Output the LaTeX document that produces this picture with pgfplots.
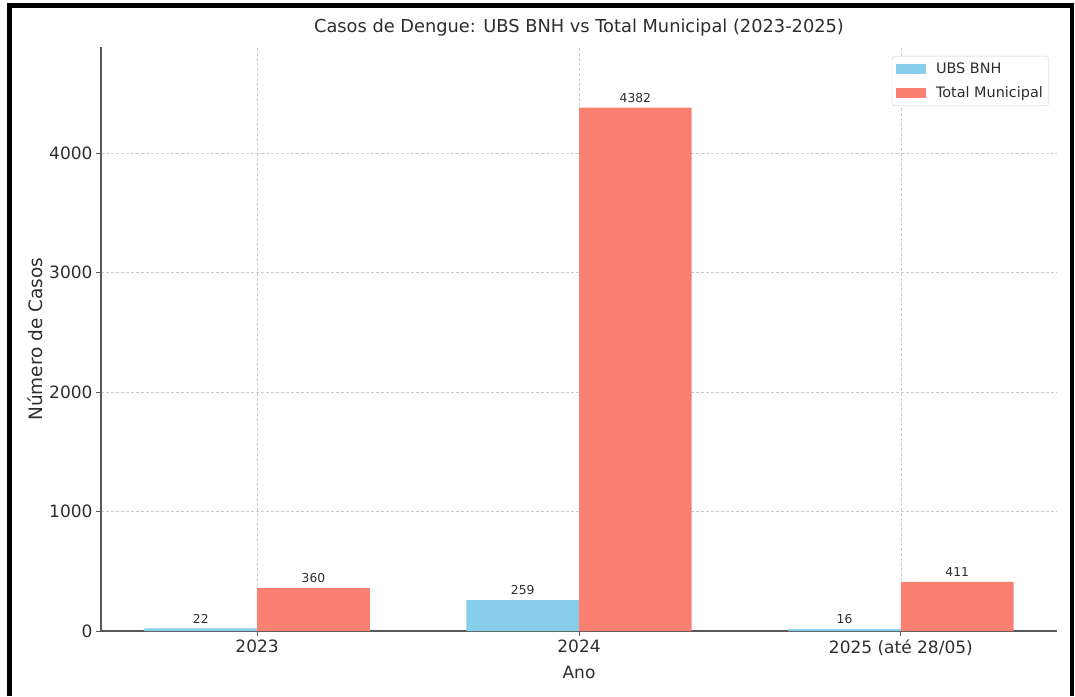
\documentclass[border=0pt]{standalone}
\usepackage{pgfplots}
\pgfplotsset{compat=1.18}
\usepackage{fontspec}
\setmainfont{DejaVu Sans}
\definecolor{skyb}{RGB}{135,206,235}
\definecolor{salm}{RGB}{250,128,114}
\definecolor{txt}{RGB}{45,45,45}
\pgfplotsset{mybarlegend/.style={legend image code/.code={\fill[##1, sharp corners] (0pt,-5pt) rectangle (30pt,5pt); \path (38pt,0pt);}}}
\begin{document}
\begin{tikzpicture}[x=1pt,y=1pt]
\path[use as bounding box] (0,0) rectangle (1075,696);
\begin{axis}[
  at={(101pt,65pt)}, anchor=south west,
  scale only axis, width=956pt, height=584pt,
  xmin=-0.485, xmax=2.485, ymin=0, ymax=4890,
  axis x line*=bottom, axis y line*=left,
  axis line style={black!65, line width=1.3pt},
  xtick={0,1,2}, xticklabels={2023,2024,{2025 (até 28/05)}},
  ytick={0,1000,2000,3000,4000},
  scaled y ticks=false,
  /pgf/number format/1000 sep={},
  /pgf/number format/assume math mode=true,
  tick align=outside, major tick length=5pt,
  tick style={black!65, line width=1pt},
  ticklabel style={font=\fontsize{17}{20}\selectfont, text=txt},
  grid=major,
  major grid style={gray!40, dash pattern=on 3pt off 2pt, line width=0.7pt},
  title={Casos de Dengue: UBS BNH vs Total Municipal (2023-2025)},
  title style={at={(0.5,1)}, anchor=base, yshift=8pt, font=\fontsize{17.8}{20}\selectfont, text=txt},
  xlabel={Ano},
  xlabel style={at={(axis description cs:0.5,0)}, anchor=base, yshift=-47pt, font=\fontsize{17}{20}\selectfont, text=txt},
  ylabel={Número de Casos},
  ylabel style={at={(axis description cs:-0.069,0.5)}, anchor=center, font=\fontsize{18.5}{21}\selectfont, text=txt},
  ybar, bar width=0.35,
  nodes near coords,
  every node near coord/.append style={font=\fontsize{12.3}{14}\selectfont, text=txt, inner sep=0pt, yshift=5pt},
  legend style={at={(1,1)}, anchor=north east, xshift=-8pt, yshift=-9pt, draw=black!20, rounded corners=3pt, fill=white, font=\fontsize{14.4}{17}\selectfont, text=txt, inner xsep=4pt, inner ysep=5pt, row sep=7pt},
  legend cell align=left,
]
\addplot[fill=skyb, draw=none, bar shift=-0.175, mybarlegend] coordinates {(0,22) (1,259) (2,16)};
\addplot[fill=salm, draw=none, bar shift=0.175, mybarlegend] coordinates {(0,360) (1,4382) (2,411)};
\legend{UBS BNH, Total Municipal}
\end{axis}
\draw[line width=4.5pt] (9.5,0) -- (9.5,690.5) -- (1072,690.5) -- (1072,0);
\end{tikzpicture}
\end{document}
